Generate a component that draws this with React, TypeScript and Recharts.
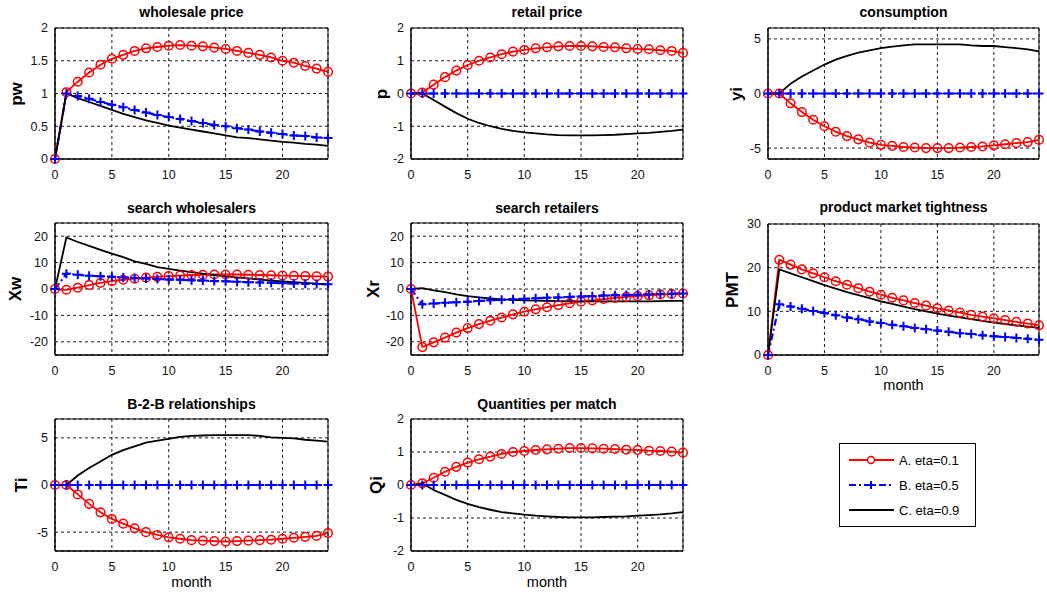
import React from 'react';
import { LineChart, Line, XAxis, YAxis, CartesianGrid, ReferenceArea } from 'recharts';

// months after the shock
const months = [0, 1, 2, 3, 4, 5, 6, 7, 8, 9, 10, 11, 12, 13, 14, 15, 16, 17, 18, 19, 20, 21, 22, 23, 24];
const monthTicks = [0, 5, 10, 15, 20];

// eta = 0.5 stays flat at zero for the price / quantity panels
const flatB = [0, 0, 0, 0, 0, 0, 0, 0, 0, 0, 0, 0, 0, 0, 0, 0, 0, 0, 0, 0, 0, 0, 0, 0, 0];

// wholesale price
const pwA = [0, 1.02, 1.18, 1.32, 1.44, 1.53, 1.59, 1.65, 1.69, 1.71, 1.73, 1.74, 1.73, 1.72, 1.7, 1.68, 1.65, 1.62, 1.59, 1.55, 1.5, 1.47, 1.42, 1.38, 1.33];
const pwB = [0, 1.0, 0.96, 0.92, 0.87, 0.83, 0.79, 0.75, 0.71, 0.67, 0.64, 0.61, 0.58, 0.55, 0.52, 0.5, 0.47, 0.45, 0.42, 0.4, 0.38, 0.36, 0.35, 0.33, 0.32];
const pwC = [0, 1.0, 0.93, 0.87, 0.81, 0.75, 0.69, 0.64, 0.59, 0.55, 0.51, 0.48, 0.45, 0.42, 0.39, 0.36, 0.33, 0.32, 0.3, 0.28, 0.26, 0.25, 0.23, 0.22, 0.2];

// retail price
const pA = [0, 0.03, 0.27, 0.5, 0.7, 0.87, 1.0, 1.1, 1.2, 1.28, 1.33, 1.38, 1.41, 1.44, 1.45, 1.45, 1.44, 1.42, 1.41, 1.38, 1.36, 1.35, 1.32, 1.3, 1.24];
const pC = [0, 0, -0.2, -0.4, -0.6, -0.77, -0.9, -1.0, -1.08, -1.14, -1.19, -1.22, -1.25, -1.27, -1.28, -1.28, -1.28, -1.27, -1.26, -1.24, -1.22, -1.2, -1.17, -1.14, -1.1];

// consumption
const yiA = [0, 0, -0.9, -1.7, -2.4, -3.0, -3.5, -3.9, -4.2, -4.5, -4.7, -4.8, -4.9, -4.95, -5.0, -5.0, -5.0, -4.95, -4.9, -4.85, -4.75, -4.65, -4.55, -4.45, -4.25];
const yiC = [0, 0, 0.9, 1.55, 2.1, 2.65, 3.1, 3.45, 3.75, 3.95, 4.15, 4.3, 4.4, 4.5, 4.5, 4.5, 4.5, 4.5, 4.4, 4.35, 4.35, 4.25, 4.15, 4.05, 3.85];

// search wholesalers
const xwA = [0, -0.3, 0.5, 1.5, 2.3, 3.0, 3.5, 3.9, 4.3, 4.6, 4.9, 5.1, 5.3, 5.4, 5.5, 5.5, 5.5, 5.4, 5.3, 5.2, 5.1, 5.0, 4.9, 4.8, 4.7];
const xwB = [0, 5.8, 5.4, 5.0, 4.8, 4.6, 4.4, 4.2, 4.0, 3.8, 3.6, 3.5, 3.3, 3.2, 3.0, 2.9, 2.7, 2.6, 2.5, 2.4, 2.2, 2.1, 2.0, 1.9, 1.8];
const xwC = [0, 19.5, 17.8, 16.3, 14.8, 13.4, 12.1, 10.5, 9.5, 8.3, 7.6, 7.0, 6.4, 5.8, 5.3, 4.8, 4.4, 4.0, 3.6, 3.2, 2.9, 2.6, 2.3, 2.0, 1.7];

// search retailers
const xrA = [0, -22, -20.2, -18.4, -16.5, -14.8, -13.3, -12.0, -10.8, -9.6, -8.6, -7.7, -6.9, -6.1, -5.4, -4.8, -4.3, -3.8, -3.4, -3.0, -2.7, -2.4, -2.1, -1.9, -1.7];
const xrB = [0, -5.8, -5.5, -5.2, -5.0, -4.8, -4.5, -4.3, -4.1, -3.9, -3.7, -3.5, -3.3, -3.2, -3.0, -2.8, -2.7, -2.5, -2.4, -2.3, -2.2, -2.0, -1.9, -1.8, -1.7];
const xrC = [0, 0.3, -0.5, -1.2, -2.0, -2.7, -3.2, -3.6, -3.9, -4.1, -4.3, -4.4, -4.5, -4.6, -4.6, -4.7, -4.7, -4.7, -4.7, -4.7, -4.7, -4.7, -4.6, -4.5, -4.5];

// product market tightness
const pmtA = [0, 21.8, 20.7, 19.6, 18.7, 17.8, 16.9, 16.1, 15.3, 14.5, 13.8, 13.1, 12.5, 11.9, 11.3, 10.7, 10.2, 9.7, 9.2, 8.8, 8.4, 8.0, 7.6, 7.2, 6.8];
const pmtB = [0, 11.6, 11.1, 10.6, 10.1, 9.6, 9.1, 8.6, 8.2, 7.7, 7.3, 6.9, 6.6, 6.2, 5.9, 5.6, 5.3, 5.0, 4.8, 4.5, 4.3, 4.1, 3.9, 3.7, 3.5];
const pmtC = [0, 19.6, 18.7, 17.8, 16.9, 16.0, 15.2, 14.4, 13.7, 13.0, 12.3, 11.7, 11.1, 10.5, 10.0, 9.5, 9.0, 8.6, 8.2, 7.8, 7.4, 7.1, 6.8, 6.5, 6.2];

// B-2-B relationships
const tiA = [0, 0, -1.0, -2.0, -2.9, -3.6, -4.1, -4.6, -5.0, -5.3, -5.55, -5.7, -5.85, -5.9, -5.95, -6.0, -5.95, -5.9, -5.85, -5.8, -5.7, -5.6, -5.5, -5.4, -5.1];
const tiC = [0, 0, 1.0, 1.8, 2.5, 3.2, 3.7, 4.1, 4.5, 4.7, 4.9, 5.1, 5.2, 5.25, 5.3, 5.3, 5.3, 5.3, 5.2, 5.05, 5.0, 4.95, 4.8, 4.7, 4.6];

// quantities per match
const qiA = [0, 0.05, 0.22, 0.4, 0.55, 0.68, 0.78, 0.86, 0.94, 1.0, 1.03, 1.06, 1.08, 1.1, 1.12, 1.12, 1.11, 1.1, 1.09, 1.07, 1.06, 1.04, 1.03, 1.01, 0.98];
const qiC = [0, 0.05, -0.15, -0.3, -0.45, -0.57, -0.67, -0.75, -0.82, -0.86, -0.9, -0.93, -0.95, -0.97, -0.98, -0.98, -0.98, -0.97, -0.96, -0.95, -0.93, -0.91, -0.89, -0.86, -0.82];

const seriesNames = ['A. eta=0.1', 'B. eta=0.5', 'C. eta=0.9'];

const RED = '#ff0000';
const BLUE = '#0000ff';
const FONT = '"Liberation Sans", Arial, Helvetica, sans-serif';

const Y_W = 50;
const X_H = 30;
const PAD = 10;

const panels = [
  { title: 'wholesale price', ylab: 'pw', a: pwA, b: pwB, c: pwC, domain: [0, 2], ticks: [0, 0.5, 1, 1.5, 2], box: [55, 28, 328, 159], labX: 17, titleY: 12 },
  { title: 'retail price', ylab: 'p', a: pA, b: flatB, c: pC, domain: [-2, 2], ticks: [-2, -1, 0, 1, 2], box: [411, 28, 683, 159], labX: 382, titleY: 12 },
  { title: 'consumption', ylab: 'yi', a: yiA, b: flatB, c: yiC, domain: [-6, 6], ticks: [-5, 0, 5], box: [768, 28, 1039, 159], labX: 737, titleY: 12 },
  { title: 'search wholesalers', ylab: 'Xw', a: xwA, b: xwB, c: xwC, domain: [-25, 25], ticks: [-20, -10, 0, 10, 20], box: [55, 223, 328, 355], labX: 16, titleY: 208 },
  { title: 'search retailers', ylab: 'Xr', a: xrA, b: xrB, c: xrC, domain: [-25, 25], ticks: [-20, -10, 0, 10, 20], box: [411, 223, 683, 355], labX: 374, titleY: 208 },
  { title: 'product market tightness', ylab: 'PMT', a: pmtA, b: pmtB, c: pmtC, domain: [0, 30], ticks: [0, 10, 20, 30], box: [768, 224, 1039, 355], labX: 733, titleY: 207, month: 385 },
  { title: 'B-2-B relationships', ylab: 'Ti', a: tiA, b: flatB, c: tiC, domain: [-7, 7], ticks: [-5, 0, 5], box: [55, 419, 328, 551], labX: 22, titleY: 404, month: 582 },
  { title: 'Quantities per match', ylab: 'Qi', a: qiA, b: flatB, c: qiC, domain: [-2, 2], ticks: [-2, -1, 0, 1, 2], box: [411, 419, 683, 551], labX: 377, titleY: 404, month: 582 },
];

const PlusDot = (props: any) => {
  const { cx, cy, index } = props;
  if (cx == null || cy == null) return <g key={`pl-${index}`} />;
  return (
    <path
      key={`pl-${index}`}
      d={`M${cx - 4.5},${cy}H${cx + 4.5}M${cx},${cy - 4.5}V${cy + 4.5}`}
      stroke={BLUE}
      strokeWidth={2}
      fill="none"
    />
  );
};

const Panel = ({ cfg }: { cfg: any }) => {
  const [x0, y0, x1, y1] = cfg.box;
  const data = months.map((m, i) => ({ m, a: cfg.a[i], b: cfg.b[i], c: cfg.c[i] }));
  const width = x1 - x0 + Y_W + PAD;
  const height = y1 - y0 + X_H + PAD;
  const tick = { fill: '#111', fontSize: 12.5, fontFamily: FONT };
  return (
    <>
      <div
        style={{
          position: 'absolute',
          left: (x0 + x1) / 2,
          top: cfg.titleY,
          transform: 'translate(-50%, -50%)',
          fontFamily: FONT,
          fontWeight: 'bold',
          fontSize: 14,
          whiteSpace: 'nowrap',
        }}
      >
        {cfg.title}
      </div>
      <div
        style={{
          position: 'absolute',
          left: cfg.labX,
          top: (y0 + y1) / 2,
          transform: 'translate(-50%, -50%) rotate(-90deg)',
          fontFamily: FONT,
          fontWeight: 'bold',
          fontSize: 17,
          whiteSpace: 'nowrap',
        }}
      >
        {cfg.ylab}
      </div>
      {cfg.month && (
        <div
          style={{
            position: 'absolute',
            left: (x0 + x1) / 2,
            top: cfg.month,
            transform: 'translate(-50%, -50%)',
            fontFamily: FONT,
            fontSize: 14.5,
          }}
        >
          month
        </div>
      )}
      <div style={{ position: 'absolute', left: x0 - Y_W, top: y0 - PAD }}>
        <LineChart width={width} height={height} data={data} margin={{ top: PAD, right: PAD, left: 0, bottom: 0 }}>
          <CartesianGrid stroke="#000" strokeWidth={0.9} strokeDasharray="3 3" />
          <XAxis
            dataKey="m"
            type="number"
            domain={[0, 24]}
            ticks={monthTicks}
            height={X_H}
            tickLine={false}
            tickSize={9}
            axisLine={{ stroke: '#000' }}
            tick={tick}
            interval={0}
          />
          <YAxis
            type="number"
            domain={cfg.domain}
            ticks={cfg.ticks}
            width={Y_W}
            tickLine={false}
            tickSize={5}
            axisLine={{ stroke: '#000' }}
            tick={tick}
            interval={0}
          />
          <ReferenceArea x1={0} x2={24} y1={cfg.domain[0]} y2={cfg.domain[1]} fill="none" fillOpacity={0} stroke="#000" strokeWidth={1} />
          <Line
            dataKey="a"
            name={seriesNames[0]}
            stroke={RED}
            strokeWidth={1.8}
            dot={{ r: 4.3, stroke: RED, strokeWidth: 1.5, fill: 'none' }}
            isAnimationActive={false}
          />
          <Line
            dataKey="b"
            name={seriesNames[1]}
            stroke={BLUE}
            strokeWidth={2.2}
            strokeDasharray="7 3 2 3"
            dot={PlusDot}
            isAnimationActive={false}
          />
          <Line dataKey="c" name={seriesNames[2]} stroke="#000" strokeWidth={1.8} dot={false} isAnimationActive={false} />
        </LineChart>
      </div>
    </>
  );
};

const LegendBox = () => {
  const rows = [460, 485, 510];
  return (
    <div style={{ position: 'absolute', left: 839, top: 443, width: 137, height: 84 }}>
      <svg width={137} height={84} style={{ position: 'absolute', left: 0, top: 0 }}>
        <rect x={0.5} y={0.5} width={136} height={83} fill="#fff" stroke="#000" strokeWidth={1} />
        <line x1={10} x2={55} y1={rows[0] - 443} y2={rows[0] - 443} stroke={RED} strokeWidth={1.8} />
        <circle cx={32} cy={rows[0] - 443} r={3.5} stroke={RED} strokeWidth={1.5} fill="#fff" />
        <line x1={10} x2={55} y1={rows[1] - 443} y2={rows[1] - 443} stroke={BLUE} strokeWidth={2.2} strokeDasharray="7 3 2 3" />
        <path d={`M28,${rows[1] - 443}H36M32,${rows[1] - 443 - 4}V${rows[1] - 443 + 4}`} stroke={BLUE} strokeWidth={2} />
        <line x1={10} x2={55} y1={rows[2] - 443} y2={rows[2] - 443} stroke="#000" strokeWidth={1.8} />
      </svg>
      {seriesNames.map((n, i) => (
        <div
          key={n}
          style={{
            position: 'absolute',
            left: 60,
            top: rows[i] - 443,
            transform: 'translateY(-50%)',
            fontFamily: FONT,
            fontSize: 13,
            whiteSpace: 'nowrap',
          }}
        >
          {n}
        </div>
      ))}
    </div>
  );
};

export default function App() {
  return (
    <div style={{ position: 'absolute', left: 0, top: 0, width: 1047, height: 594, background: '#fff', overflow: 'hidden' }}>
      {panels.map((p) => (
        <Panel key={p.title} cfg={p} />
      ))}
      <LegendBox />
    </div>
  );
}
